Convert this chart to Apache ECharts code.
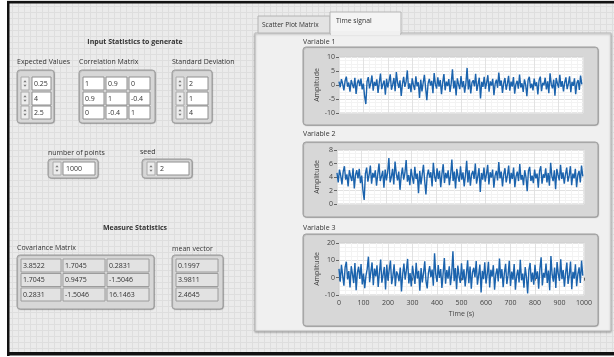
<!DOCTYPE html>
<html><head><meta charset="utf-8">
<script src="https://cdn.jsdelivr.net/npm/echarts@6/dist/echarts.min.js"></script>
<style>html,body{margin:0;padding:0;background:#fff}#c{width:614px;height:357px}</style>
</head><body><div id="c"></div>
<script>
// ---------- data ----------
const timeStep = 5; // seconds between plotted samples
const timeTicks = [0,100,200,300,400,500,600,700,800,900,1000];
const variable1 = [1.2,-0.8,2.1,0.4,-1.9,1.5,3.0,-0.6,0.9,-2.4,1.8,0.2,-1.1,2.6,-3.2,0.7,1.9,-0.4,2.3,-1.6,
0.5,-4.1,-6.8,1.3,2.8,-1.2,0.6,3.4,-2.0,1.1,-0.3,2.0,-2.8,0.8,4.1,-1.5,0.3,1.6,-3.5,2.2,
-0.9,1.4,3.8,-1.7,0.1,2.5,-2.2,4.6,0.9,-1.0,1.7,-3.9,0.4,2.9,-0.7,1.2,5.2,-1.4,0.6,-2.6,
2.4,0.0,-1.8,3.1,-0.5,1.0,-4.6,1.9,-2.3,0.8,3.6,-1.1,-5.4,0.5,2.2,-0.2,1.5,-2.9,4.3,0.3,
-1.3,2.7,-0.6,1.8,-3.3,0.9,3.9,-1.9,1.2,-0.4,2.1,-2.5,0.7,5.6,-1.2,1.6,-3.7,2.4,0.2,-1.5,
3.2,-0.8,1.4,-2.7,0.6,6.1,-1.6,2.0,-3.0,0.9,1.7,-0.5,4.0,-2.1,0.3,2.6,-4.8,1.1,-0.7,2.9,
-1.4,0.8,3.5,-2.4,1.3,-0.2,2.2,-3.6,0.5,1.9,-1.0,4.4,-0.3,1.6,-2.8,0.7,2.5,-1.7,0.4,3.3,
-2.0,1.2,-0.6,2.8,-3.1,0.3,1.5,-1.3,3.7,-0.9,0.6,-2.5,2.0,0.1,-4.0,1.8,2.9,-1.1,0.5,-1.9,
2.3,-0.4,1.0,-3.4,1.7,3.0,-2.2,0.8,-0.1,2.6,-1.6,1.3,-2.9,4.2,0.2,-1.2,1.9,-3.8,2.5,0.6,
-1.0,3.6,-0.7,1.4,-2.3,0.9,2.7,-1.5,0.4,3.1,-2.6,1.1,-0.3,2.4,-3.3,0.7,1.8,-1.8,3.4,0.2];
const variable2 = [4.6,3.2,5.1,4.2,2.9,4.8,5.6,3.6,4.4,2.6,5.0,4.1,3.4,5.3,2.3,4.3,5.0,3.8,5.2,3.1,
4.2,2.0,0.6,4.5,5.4,3.3,4.3,5.7,3.0,4.6,3.9,5.0,2.7,4.4,6.0,3.4,4.1,4.9,2.4,5.1,
3.5,4.7,6.8,3.2,4.0,5.2,2.9,6.3,4.5,3.5,4.8,2.1,4.2,5.4,3.6,4.6,6.5,3.3,4.3,2.8,
5.2,4.0,3.0,5.5,3.7,4.5,1.6,4.9,2.9,4.4,5.8,3.4,1.4,4.2,5.1,3.9,4.7,2.6,6.1,4.1,
3.3,5.3,3.7,4.9,2.5,4.5,5.9,3.1,4.6,3.8,5.0,2.8,4.3,6.6,3.4,4.8,2.3,5.2,4.1,3.3,
5.6,3.6,4.7,2.6,4.3,6.4,3.2,5.0,2.7,4.4,4.9,3.7,6.0,3.0,4.1,5.3,1.8,4.6,3.6,5.4,
3.3,4.4,5.8,2.9,4.7,3.9,5.1,2.4,4.2,4.9,3.5,6.2,3.8,4.8,2.6,4.4,5.3,3.2,4.2,5.7,
3.0,4.6,3.7,5.4,2.5,4.1,4.8,3.4,5.9,3.6,4.3,2.8,5.0,4.0,1.9,4.9,5.5,3.4,4.2,3.1,
5.1,3.8,4.5,2.4,4.9,5.6,3.0,4.4,3.9,5.3,3.2,4.6,2.7,6.1,4.1,3.4,5.0,2.2,5.2,4.3,
3.5,5.8,3.7,4.7,3.0,4.4,5.4,3.3,4.2,5.6,2.8,4.5,3.8,5.2,2.5,4.3,4.9,3.2,5.7,4.1];
const variable3 = [5.1,-2.3,7.4,1.2,-4.6,6.0,9.2,-1.0,3.8,-5.7,6.6,2.0,-3.1,8.4,-7.2,2.9,6.3,-0.8,7.9,-3.9,
2.4,-6.1,1.0,4.9,12.1,-2.6,3.3,8.8,-4.4,5.2,0.7,7.1,-5.3,3.0,10.4,-2.9,1.6,6.2,-6.8,7.5,
-1.7,4.6,9.9,-3.8,0.9,7.7,-4.9,3.6,1.8,-2.1,5.9,-8.0,2.1,8.1,-1.2,4.2,10.8,-3.3,2.7,-5.1,
6.9,1.4,-3.6,8.6,-0.5,3.9,-7.5,5.5,-2.7,2.6,9.4,-1.9,-6.2,2.8,6.7,0.3,4.7,-4.7,14.1,1.9,
-2.5,7.3,-0.2,5.0,-5.9,2.5,11.3,-3.5,4.4,-0.6,6.5,-4.3,2.2,15.2,-2.0,5.6,-6.6,7.0,1.1,-3.0,
8.3,-1.4,4.8,-5.0,2.3,10.0,-3.2,6.4,-6.4,3.1,5.7,0.2,9.6,-4.1,1.5,7.6,-8.5,4.0,-0.9,8.9,
-3.4,2.0,9.1,-5.6,4.5,0.6,7.2,-7.0,1.9,5.3,-2.2,11.0,-0.4,4.9,-5.5,2.6,8.0,-3.7,1.3,9.7,
-4.8,3.5,-1.1,7.8,-6.9,1.0,4.6,-2.8,10.3,-1.5,2.4,-5.8,6.1,0.5,-9.1,4.3,8.5,-2.4,2.9,-4.0,
7.4,-0.7,3.7,-6.3,5.1,11.8,-4.5,2.8,0.0,8.2,-3.1,4.1,-7.3,12.5,1.7,-2.3,5.8,-6.0,9.0,2.2,
-1.8,10.6,-0.9,4.4,-5.2,2.7,8.7,-3.6,1.6,9.3,-6.7,3.4,-0.6,7.7,-4.9,2.1,6.0,-3.0,9.8,1.2];
const expectedValues = ['0.25','4','2.5'];
const correlationMatrix = [['1','0.9','0'],['0.9','1','-0.4'],['0','-0.4','1']];
const standardDeviation = ['2','1','4'];
const numberOfPoints = '1000';
const seed = '2';
const covarianceMatrix = [['3.8522','1.7045','0.2831'],['1.7045','0.9475','-1.5046'],['0.2831','-1.5046','16.1463']];
const meanVector = ['0.1997','3.9811','2.4645'];

// ---------- panel drawing helpers ----------
const FONT = '"Open Sans", "Noto Sans", sans-serif';
const G = [];
function T(x,y,s,o){G.push({type:'text',x:x,y:y,z:-1,silent:true,style:Object.assign({text:s,fill:'#333333',font:'7px '+FONT,textAlign:'left',textVerticalAlign:'middle'},o||{})});}
function R(x,y,w,h,o,r){G.push({type:'rect',z:-5,silent:true,shape:{x:x,y:y,width:w,height:h,r:r||0},style:Object.assign({fill:'#fff',stroke:'#9a9a9a',lineWidth:1},o||{})});}
function P(pts,o){G.push({type:'polygon',z:-4,silent:true,shape:{points:pts},style:Object.assign({fill:'#777'},o||{})});}
function spinner(x,y,h){
  R(x,y,8,h,{fill:'#ededed',stroke:'#aaaaaa'});
  const cx=x+4;
  P([[cx-1.6,y+h/2-1.2],[cx+1.6,y+h/2-1.2],[cx,y+h/2-3.2]]);
  P([[cx-1.6,y+h/2+1.2],[cx+1.6,y+h/2+1.2],[cx,y+h/2+3.2]]);
}
function frame(x,y,w,h){R(x,y,w,h,{fill:'#d7d7d7',stroke:'#a2a2a2',shadowBlur:1,shadowColor:'rgba(0,0,0,0.25)',shadowOffsetX:0.5,shadowOffsetY:0.5},3);}

// background grid pattern
const pc=document.createElement('canvas');pc.width=6;pc.height=6;
const pg=pc.getContext('2d');pg.fillStyle='#ebebeb';pg.fillRect(0,0,6,6);pg.fillStyle='#dedede';pg.fillRect(0,0,6,1);pg.fillRect(0,0,1,6);
R(0,0,614,357,{fill:{type:'pattern',image:pc,repeat:'repeat'},stroke:null});
// photo borders
R(0,0,7,357,{fill:'#ffffff',stroke:null});
R(0,355,614,2,{fill:'#ffffff',stroke:null});
R(7,1,607,2.5,{fill:'#111',stroke:null});
R(7,1,2.5,355,{fill:'#111',stroke:null});
R(7,352,607,3.5,{fill:'#111',stroke:null});

// ---- left: inputs ----
T(135,42,'Input Statistics to generate',{font:'bold 7px '+FONT,textAlign:'center'});
T(17,62,'Expected Values');
T(79,62,'Correlation Matrix');
T(172,62,'Standard Deviation');
const rowsY=[77,92,106], rowH=13;
frame(17,70,37,53);
expectedValues.forEach((v,i)=>{spinner(21,rowsY[i],rowH);R(32,rowsY[i],19,rowH,{fill:'#fff',stroke:'#8e8e8e'});T(34,rowsY[i]+rowH/2,v);});
frame(79,70,76,53);
const cmX=[83,106,129];
correlationMatrix.forEach((row,i)=>row.forEach((v,j)=>{R(cmX[j],rowsY[i],21,rowH,{fill:'#fff',stroke:'#8e8e8e'});T(cmX[j]+2,rowsY[i]+rowH/2,v);}));
frame(172,70,40,53);
standardDeviation.forEach((v,i)=>{spinner(176,rowsY[i],rowH);R(187,rowsY[i],21,rowH,{fill:'#fff',stroke:'#8e8e8e'});T(189,rowsY[i]+rowH/2,v);});

T(48,153,'number of points');
frame(48,159,50,19);
spinner(53,162,13);R(63,162,32,13,{fill:'#fff',stroke:'#8e8e8e'});T(66,168.5,numberOfPoints);
T(140,152,'seed');
frame(142,159,50,19);
spinner(147,162,13);R(157,162,32,13,{fill:'#fff',stroke:'#8e8e8e'});T(160,168.5,seed);

// ---- left: measured ----
T(135,228,'Measure Statistics',{font:'bold 7px '+FONT,textAlign:'center'});
T(17,248,'Covariance Matrix');
T(172,249,'mean vector');
frame(17,255,137,54);
const mRowsY=[259,273.5,288], mRowH=13;
const covX=[21,63,107], covW=[40,42,42];
covarianceMatrix.forEach((row,i)=>row.forEach((v,j)=>{R(covX[j],mRowsY[i],covW[j],mRowH,{fill:'#e2e2e2',stroke:'#9c9c9c'});T(covX[j]+2,mRowsY[i]+mRowH/2,v);}));
frame(172,255,51,54);
meanVector.forEach((v,i)=>{R(176,mRowsY[i],42,mRowH,{fill:'#e2e2e2',stroke:'#9c9c9c'});T(178,mRowsY[i]+mRowH/2,v);});

// ---- right: tab control ----
R(255,33,356,298,{fill:'#f0f0f0',stroke:'#bdbdbd',shadowBlur:2,shadowColor:'rgba(0,0,0,0.3)',shadowOffsetY:1});
R(258,16,72,17,{fill:'#e3e3e3',stroke:'#b4b4b4'});
T(262,25,'Scatter Plot Matrix',{font:'6.6px '+FONT});
R(330,12,71,22,{fill:'#f4f4f4',stroke:'#b4b4b4'});
R(331,31,69,4,{fill:'#f0f0f0',stroke:null});
T(336,21,'Time signal',{font:'6.8px '+FONT});

frame(303,47,295,78);
frame(303,142,295,75);
frame(303,234,295,92);
T(303,42,'Variable 1');
T(303,134,'Variable 2');
T(303,228,'Variable 3');

// ---------- chart ----------
const grids=[{left:339,top:57,width:244,height:56},{left:337,top:150,width:247,height:54},{left:339,top:243,width:245,height:52}];
const yRanges=[[-10,10,5],[0,8,2],[-10,20,10]];
const series=[variable1,variable2,variable3];
const lbl={color:'#444',fontSize:7,fontFamily:FONT};
const option={
  animation:false,
  graphic:{elements:G},
  grid:grids.map(g=>Object.assign({show:true,backgroundColor:'#ffffff',borderColor:'#cfcfcf',borderWidth:1},g)),
  xAxis:grids.map((g,i)=>({
    type:'value',gridIndex:i,min:timeTicks[0],max:timeTicks[timeTicks.length-1],interval:timeTicks[1]-timeTicks[0],
    axisLine:{show:false},
    axisTick:{show:i===2,length:3,lineStyle:{color:'#666'}},
    axisLabel:Object.assign({show:i===2,margin:4,formatter:v=>String(v)},lbl),
    splitLine:{show:true,lineStyle:{color:'#e2e2e2',width:1}},
    minorTick:{show:false,splitNumber:4},
    minorSplitLine:{show:true,lineStyle:{color:'#f3f3f3'}},
    name:i===2?'Time (s)':'',nameLocation:'middle',nameGap:15,nameTextStyle:lbl
  })),
  yAxis:grids.map((g,i)=>({
    type:'value',gridIndex:i,min:yRanges[i][0],max:yRanges[i][1],interval:yRanges[i][2],
    axisLine:{show:false},
    axisTick:{show:true,length:3,lineStyle:{color:'#666'}},
    axisLabel:Object.assign({margin:4},lbl),
    splitLine:{show:true,lineStyle:{color:'#e2e2e2'}},
    minorSplitLine:{show:true,lineStyle:{color:'#f3f3f3'}},
    minorTick:{show:false,splitNumber:4},
    name:'Amplitude',nameLocation:'middle',nameGap:17,nameTextStyle:lbl
  })),
  series:series.map((arr,i)=>({
    type:'line',xAxisIndex:i,yAxisIndex:i,showSymbol:false,silent:true,
    lineStyle:{color:'#1b63ad',width:1.4},
    data:arr.map((v,k)=>[k*timeStep,v])
  }))
};
const chart=echarts.init(document.getElementById('c'),null,{renderer:'canvas'});
chart.setOption(option);
</script></body></html>
